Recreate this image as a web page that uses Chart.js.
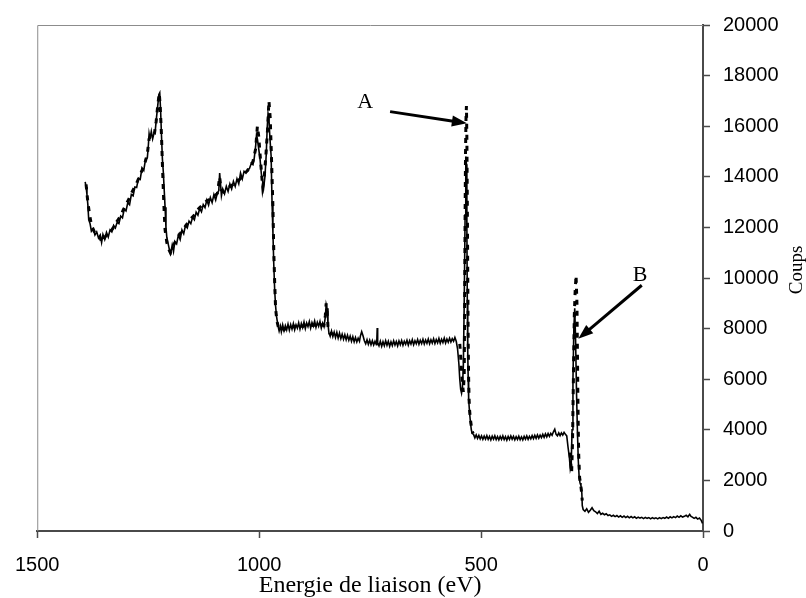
<!DOCTYPE html>
<html>
<head>
<meta charset="utf-8">
<script src="https://cdn.jsdelivr.net/npm/chart.js@4.4.1/dist/chart.umd.min.js"></script>
<style>
  html, body { margin: 0; padding: 0; background: #fff; }
  canvas { display: block; }
</style>
</head>
<body>
<canvas id="xps" width="806" height="598"></canvas>
<script>
// survey spectrum (thin solid line): [binding energy eV, counts]
const survey = [
  [1392,13800],[1390,13600],[1388,13300],[1386,12900],[1384,12300],[1381,12150],[1378,11850],[1374,11950],[1370,11700],[1366,11820],
  [1362,11580],[1358,11700],[1355,11400],[1352,11720],[1348,11520],[1344,11800],[1340,11620],[1336,11900],[1332,11820],[1328,12080],
  [1324,11980],[1320,12200],[1316,12150],[1312,12450],[1308,12380],[1304,12720],[1300,12650],[1296,12980],[1292,12900],[1288,13300],
  [1284,13250],[1280,13600],[1276,13580],[1272,13950],[1268,13900],[1264,14350],[1260,14250],[1256,14700],[1252,14750],[1250,15150],
  [1248,15700],[1246,15500],[1243,15800],[1240,15500],[1237,15720],[1234,15850],[1231,16400],[1228,16900],[1226,17250],[1224,17320],
  [1222,16600],[1220,15600],[1218,14700],[1216,14200],[1214,13500],[1212,12800],[1210,12000],[1208,11600],[1205,11350],[1202,11100],
  [1199,11000],[1196,11300],[1193,11050],[1190,11450],[1186,11350],[1182,11700],[1178,11520],[1174,11900],[1170,11750],[1166,12080],
  [1162,11980],[1158,12250],[1154,12150],[1150,12400],[1146,12300],[1142,12600],[1138,12480],[1134,12750],[1130,12620],[1126,12900],
  [1122,12780],[1118,13080],[1114,12880],[1110,13180],[1106,12980],[1102,13300],[1098,13080],[1094,13380],[1091,13450],[1089,14150],
  [1087,13700],[1085,13250],[1082,13520],[1078,13330],[1074,13620],[1070,13420],[1066,13720],[1062,13520],[1058,13820],[1054,13620],
  [1050,13920],[1046,13720],[1042,14150],[1038,13920],[1034,14220],[1030,14150],[1026,14300],[1022,14320],[1018,14520],[1014,14480],
  [1011,14750],[1008,15200],[1006,15650],[1004,15500],[1001,15100],[998,14700],[995,14100],[992,13800],[990,13550],[987,14000],
  [984,14900],[982,15900],[980,16500],[978,16300],[976,15600],[973,14800],[971,13000],[969,11800],[967,10500],[965,9500],
  [963,8900],[961,8500],[958,8150],[955,7900],[952,8100],[950,7880],[947,8150],[944,7920],[941,8120],[938,7950],
  [935,8180],[932,7940],[929,8160],[926,7980],[923,8200],[920,7950],[917,8150],[914,8020],[911,8230],[908,7980],
  [905,8200],[902,8040],[899,8260],[896,8000],[893,8220],[890,8080],[887,8280],[884,8020],[881,8240],[878,8100],
  [875,8300],[872,8050],[869,8250],[866,8090],[863,8280],[860,8020],[857,8220],[854,8080],[851,8450],
  [849,8950],[847,8800],[845,8200],[843,7850],[840,7700],[837,7900],[834,7680],[831,7860],[828,7650],[825,7850],
  [822,7620],[819,7820],[816,7600],[813,7780],[810,7580],[807,7760],[804,7560],[801,7740],[798,7540],[795,7700],
  [792,7500],[789,7680],[786,7480],[783,7650],[780,7470],[777,7620],[774,7500],[772,7700],[769,7880],[766,7720],
  [763,7520],[760,7400],[757,7560],[754,7380],[751,7540],[748,7360],[745,7520],[742,7350],[739,7500],[736,7360],
  [735,7480],[734,8020],[733,7450],[730,7320],[727,7500],[724,7300],[721,7480],[718,7320],[715,7520],[712,7340],
  [709,7500],[706,7300],[703,7480],[700,7330],[697,7520],[694,7350],[691,7490],[688,7320],[685,7510],[682,7360],
  [679,7530],[676,7340],[673,7500],[670,7380],[667,7540],[664,7350],[661,7520],[658,7390],[655,7560],[652,7360],
  [649,7520],[646,7400],[643,7570],[640,7380],[637,7540],[634,7410],[631,7580],[628,7390],[625,7550],[622,7420],
  [619,7590],[616,7400],[613,7560],[610,7430],[607,7600],[604,7410],[601,7570],[598,7440],[595,7610],[592,7420],
  [589,7580],[586,7450],[583,7620],[580,7430],[577,7590],[574,7460],[571,7620],[568,7470],[565,7600],[562,7500],
  [559,7650],[556,7500],[553,7200],
  [550,6600],[548,6000],[546,5600],[544,5450],[542,5700],[540,6500],[538,9000],[536,12500],[535,14300],[534,14800],
  [533,14500],[532,12000],[531,9000],[530,7000],[529,6000],[528,5200],[526,4700],[524,4300],[522,4000],[520,3850],
  [517,3820],[514,3680],[511,3800],[508,3660],[505,3780],[502,3640],[499,3760],[496,3620],[493,3750],[490,3630],
  [487,3770],[484,3620],[481,3740],[478,3600],[475,3750],[472,3630],[469,3760],[466,3610],[463,3730],[460,3600],
  [457,3740],[454,3620],[451,3760],[448,3610],[445,3730],[442,3590],[439,3740],[436,3620],[433,3760],[430,3630],
  [427,3740],[424,3600],[421,3730],[418,3620],[415,3750],[412,3610],[409,3720],[406,3600],[403,3740],[400,3630],
  [397,3760],[394,3620],[391,3740],[388,3640],[385,3770],[382,3650],[379,3780],[376,3660],[373,3800],[370,3670],
  [367,3790],[364,3690],[361,3820],[358,3700],[355,3840],[352,3720],[349,3850],[346,3740],[343,3860],[340,3780],
  [337,3920],[334,4020],[331,3820],[328,3760],[325,3880],[322,3770],[319,3880],[316,3790],[313,3900],[310,3820],
  [307,3760],[304,3300],[301,2900],[299,2450],[297,2600],
  [295,4000],[293,6000],[291,8000],[289,8800],[287,7500],[285,5500],[283,4000],[281,2800],[279,2100],[277,1900],
  [275,1800],[273,1500],[272,1000],[270,850],[266,780],[262,880],[258,740],[254,820],[250,920],[246,800],
  [242,760],[238,690],[234,780],[230,660],[226,700],[222,640],[218,680],[214,610],[210,640],[206,580],
  [202,620],[198,570],[194,610],[190,550],[186,600],[182,540],[178,590],[174,530],[170,580],[166,520],
  [162,570],[158,520],[154,560],[150,500],[146,550],[142,510],[138,540],[134,490],[130,540],[126,500],
  [122,530],[118,480],[114,530],[110,490],[106,520],[102,480],[98,530],[94,490],[90,530],[86,500],
  [82,550],[78,500],[74,560],[70,520],[66,570],[62,530],[58,590],[54,540],[50,600],[46,550],
  [42,580],[38,620],[34,560],[30,660],[27,580],[24,550],[20,500],[16,540],[12,470],[8,510],
  [4,420],[1,300]
];

// second spectrum (thick dashed line), only where it was recorded; null breaks the line
const detail = [
  [1390,13700],[1386,13000],[1382,12500],[1378,12100],[1372,11850],[1366,11700],[1360,11650],[1354,11400],[1348,11600],[1342,11750],
  [1336,11800],[1330,11950],[1324,12150],[1318,12300],[1312,12450],[1306,12700],[1300,12900],[1294,13100],[1288,13350],[1282,13550],
  [1276,13750],[1270,14000],[1264,14250],[1258,14500],[1252,14900],[1248,15500],[1244,15650],[1240,15600],[1236,15700],[1232,16200],
  [1228,16900],[1225,17300],[1223,16800],[1220,15600],[1218,14500],[1216,13500],[1214,12600],[1212,11900],[1208,11400],[1204,11150],
  [1200,11000],[1196,11200],[1190,11400],[1184,11600],[1178,11750],[1172,11900],[1166,12050],[1160,12200],[1154,12350],[1148,12450],
  [1142,12600],[1136,12750],[1130,12850],[1124,12950],[1118,13050],[1112,13100],[1106,13150],[1100,13250],[1094,13350],[1089,14000],
  [1086,13500],[1080,13400],[1074,13500],[1068,13600],[1062,13650],[1056,13750],[1050,13800],[1044,13900],[1038,14000],[1032,14150],
  [1026,14250],[1020,14450],[1014,14600],[1008,15100],[1004,16000],[1001,15600],[998,14900],[995,14200],[992,13600],[989,13900],
  [985,14800],[981,15900],[978,17000],[975,16300],[972,14600],[969,12800],[967,11000],[965,9800],[963,8800],[960,8300],
  [956,8000],[950,8050],[944,7950],[938,8050],[932,8000],[926,8050],[920,8100],[914,8050],[908,8120],[902,8080],
  [896,8140],[890,8100],[884,8150],[878,8120],[872,8160],[866,8110],[860,8150],[854,8120],[851,8500],[849,9000],
  [847,8700],[845,8100],[841,7820],[836,7800],[832,7760],
  [700,null],
  [548,7400],[546,6900],[544,6300],[542,5800],[540,5500],[538,6200],[537,9000],[536,12500],[535,15000],[534,16300],
  [533,16800],[532,15500],[531,13000],[530,10000],[529,7500],[528,6000],[527,5200],[526,4800],[524,4400],[522,4150],
  [520,3950],[518,3850],
  [400,null],
  [300,3100],[298,2700],[296,2300],[294,3500],[292,6000],[290,8500],[288,9500],[286,10100],[284,9000],[283,7200],
  [282,5500],[281,4000],[280,3000],[278,2100],[276,1900],[274,1600],[272,1200]
];

const xTickValues = [1500, 1000, 500, 0];
const yTickValues = [0, 2000, 4000, 6000, 8000, 10000, 12000, 14000, 16000, 18000, 20000];

// peak markers, in data units
const peakLabels = [
  { text: 'A', x: 761, y: 16967 },
  { text: 'B', x: 142, y: 10105 }
];
const peakArrows = [
  { from: [705, 16576], to: [532, 16118] },
  { from: [138, 9713], to: [281, 7595] }
];

const toXY = pts => pts.map(p => ({ x: p[0], y: p[1] }));

const overlay = {
  id: 'overlay',
  beforeDatasetsDraw(chart) {
    const { ctx, chartArea: a } = chart;
    ctx.save();
    ctx.strokeStyle = '#8c8c8c';
    ctx.lineWidth = 1;
    ctx.beginPath();
    ctx.moveTo(a.left + 0.5, a.bottom);
    ctx.lineTo(a.left + 0.5, a.top + 0.5);
    ctx.lineTo(a.right, a.top + 0.5);
    ctx.stroke();
    ctx.restore();
  },
  afterDatasetsDraw(chart) {
    const { ctx, scales: { x, y } } = chart;
    ctx.save();
    ctx.fillStyle = '#000';
    ctx.strokeStyle = '#000';
    peakArrows.forEach(ar => {
      const x0 = x.getPixelForValue(ar.from[0]), y0 = y.getPixelForValue(ar.from[1]);
      const x1 = x.getPixelForValue(ar.to[0]), y1 = y.getPixelForValue(ar.to[1]);
      const ang = Math.atan2(y1 - y0, x1 - x0);
      const c = Math.cos(ang), s = Math.sin(ang);
      const head = 15, half = 5.5;
      ctx.lineWidth = 3;
      ctx.beginPath();
      ctx.moveTo(x0, y0);
      ctx.lineTo(x1 - head * c * 0.8, y1 - head * s * 0.8);
      ctx.stroke();
      ctx.beginPath();
      ctx.moveTo(x1, y1);
      ctx.lineTo(x1 - head * c + half * s, y1 - head * s - half * c);
      ctx.lineTo(x1 - head * c - half * s, y1 - head * s + half * c);
      ctx.closePath();
      ctx.fill();
    });
    ctx.font = '22px "Liberation Serif", serif';
    ctx.textAlign = 'center';
    ctx.textBaseline = 'middle';
    peakLabels.forEach(l => {
      ctx.fillText(l.text, x.getPixelForValue(l.x), y.getPixelForValue(l.y));
    });
    // right-hand axis title, reads bottom to top
    ctx.translate(chart.width - 9, 270);
    ctx.rotate(-Math.PI / 2);
    ctx.font = '19px "Liberation Serif", serif';
    ctx.fillText('Coups', 0, 0);
    ctx.restore();
  }
};

new Chart(document.getElementById('xps'), {
  type: 'line',
  data: {
    datasets: [
      {
        label: 'survey',
        data: toXY(survey),
        borderColor: '#000',
        borderWidth: 1.6,
        pointRadius: 0,
        tension: 0,
        order: 0
      },
      {
        label: 'detail',
        data: toXY(detail),
        borderColor: '#000',
        borderWidth: 3,
        borderDash: [5, 6],
        pointRadius: 0,
        tension: 0,
        spanGaps: false,
        order: 1
      }
    ]
  },
  options: {
    responsive: false,
    animation: false,
    events: [],
    layout: { padding: { left: 37, top: 21, right: 0, bottom: 0 } },
    plugins: { legend: { display: false }, tooltip: { enabled: false } },
    scales: {
      x: {
        type: 'linear',
        reverse: true,
        min: 0,
        max: 1500,
        afterBuildTicks: s => { s.ticks = xTickValues.map(v => ({ value: v })); },
        afterFit: s => { s.height = 67; },
        border: { color: '#4a4a4a', width: 2 },
        grid: { drawOnChartArea: false, drawTicks: true, tickLength: 7, color: '#4a4a4a', tickWidth: 1.5 },
        ticks: {
          color: '#000',
          padding: 15,
          maxRotation: 0,
          callback: v => String(v),
          font: { family: '"Liberation Sans", Arial, sans-serif', size: 20 }
        },
        title: {
          display: true,
          text: 'Energie de liaison (eV)',
          color: '#000',
          padding: { top: 0, bottom: 0 },
          font: { family: '"Liberation Serif", serif', size: 24, lineHeight: 1 }
        }
      },
      y: {
        position: 'right',
        min: 0,
        max: 20000,
        afterBuildTicks: s => { s.ticks = yTickValues.map(v => ({ value: v })); },
        afterFit: s => { s.width = 103; },
        border: { color: '#4a4a4a', width: 2 },
        grid: { drawOnChartArea: false, drawTicks: true, tickLength: 7, color: '#4a4a4a', tickWidth: 1.5 },
        ticks: {
          color: '#000',
          padding: 13,
          callback: v => String(v),
          font: { family: '"Liberation Sans", Arial, sans-serif', size: 20 }
        }
      }
    }
  },
  plugins: [overlay]
});
</script>
</body>
</html>
